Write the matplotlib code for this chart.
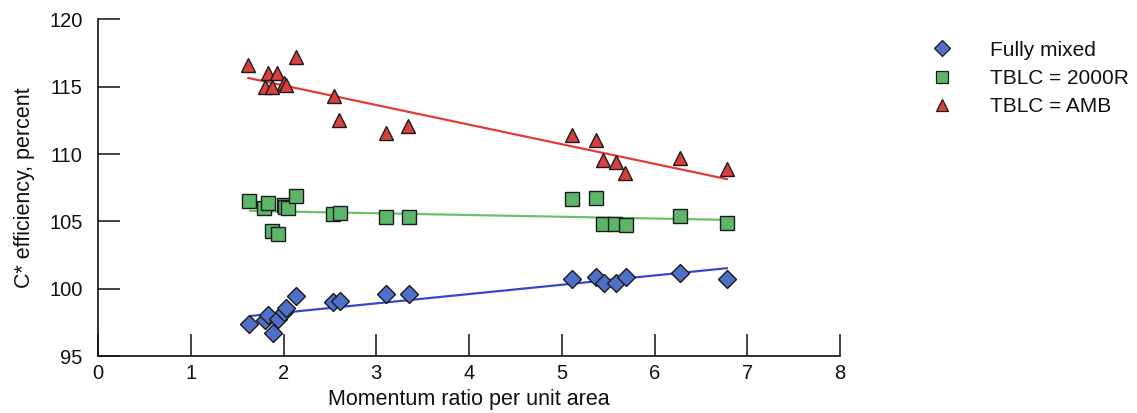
import matplotlib.pyplot as plt
from matplotlib.lines import Line2D

plt.rcParams["font.family"] = ["Liberation Sans", "DejaVu Sans"]

# momentum ratio / C* efficiency
MIXED_X = [1.63, 1.80, 1.83, 1.89, 1.94, 2.00, 2.03, 2.14, 2.53, 2.61,
           3.11, 3.35, 5.11, 5.37, 5.45, 5.59, 5.69, 6.27, 6.78]
MIXED_Y = [97.4, 97.7, 98.05, 96.7, 97.75, 98.3, 98.55, 99.45, 99.0, 99.1,
           99.6, 99.6, 100.7, 100.85, 100.45, 100.45, 100.85, 101.2, 100.75]

TBLC2000_X = [1.63, 1.79, 1.83, 2.00, 2.02, 2.05, 2.13, 1.88, 1.94, 2.53, 2.61,
              3.10, 3.35, 5.11, 5.37, 5.44, 5.57, 5.69, 6.27, 6.78]
TBLC2000_Y = [106.5, 106.0, 106.4, 106.2, 106.1, 106.0, 106.85, 104.25, 104.05, 105.55, 105.6,
              105.35, 105.3, 106.65, 106.7, 104.8, 104.8, 104.75, 105.4, 104.85]

AMB_X = [1.62, 1.80, 1.83, 1.88, 1.93, 2.00, 2.03, 2.13, 2.54, 2.60,
         3.10, 3.34, 5.11, 5.37, 5.44, 5.59, 5.68, 6.27, 6.78]
AMB_Y = [116.6, 115.0, 116.05, 115.0, 116.0, 115.3, 115.15, 117.2, 114.3, 112.5,
         111.55, 112.05, 111.4, 111.05, 109.55, 109.4, 108.6, 109.7, 108.9]

# fitted trend lines (end points)
MIXED_FIT_X = [1.64, 6.78]
MIXED_FIT_Y = [97.97, 101.52]
TBLC2000_FIT_X = [1.64, 6.78]
TBLC2000_FIT_Y = [105.78, 105.11]
AMB_FIT_X = [1.62, 6.78]
AMB_FIT_Y = [115.65, 108.14]

X_TICKS = [0, 1, 2, 3, 4, 5, 6, 7, 8]
Y_TICKS = [95, 100, 105, 110, 115, 120]

BLUE_FILL, BLUE_LINE = "#4f6fc8", "#3c46c8"
GREEN_FILL, GREEN_LINE = "#5db56a", "#6cc070"
RED_FILL, RED_LINE = "#d8403e", "#e03c3c"
EDGE = "#1c1c1c"
INK = "#111111"

fig = plt.figure(figsize=(11.37, 4.13), dpi=100)
ax = fig.add_axes([0.0862, 0.138, 0.6526, 0.815])

ax.plot(MIXED_FIT_X, MIXED_FIT_Y, color=BLUE_LINE, lw=1.6, zorder=2)
ax.plot(TBLC2000_FIT_X, TBLC2000_FIT_Y, color=GREEN_LINE, lw=1.6, zorder=2)
ax.plot(AMB_FIT_X, AMB_FIT_Y, color=RED_LINE, lw=1.6, zorder=2)

ax.plot(MIXED_X, MIXED_Y, "D", ms=8.8, mfc=BLUE_FILL, mec=EDGE, mew=1.0, ls="none", zorder=3)
ax.plot(TBLC2000_X, TBLC2000_Y, "s", ms=9.4, mfc=GREEN_FILL, mec=EDGE, mew=1.0, ls="none", zorder=3)
ax.plot(AMB_X, AMB_Y, "^", ms=10, mfc=RED_FILL, mec=EDGE, mew=1.0, ls="none", zorder=3)

ax.set_xlim(0, 8)
ax.set_ylim(95, 120)
ax.set_xticks(X_TICKS)
ax.set_yticks(Y_TICKS)
ax.tick_params(direction="in", length=16, width=1.1, labelsize=14.5, colors=INK)
ax.tick_params(axis="x", pad=6)
ax.tick_params(axis="y", pad=11)
ax.spines["top"].set_visible(False)
ax.spines["right"].set_visible(False)
for s in ("left", "bottom"):
    ax.spines[s].set_linewidth(1.2)
    ax.spines[s].set_color(INK)

ax.set_xlabel("Momentum ratio per unit area", fontsize=15.5, labelpad=4, color=INK)
ax.set_ylabel("C* efficiency, percent", fontsize=15.5, labelpad=10, color=INK)

handles = [
    Line2D([], [], marker="D", ms=8, mfc=BLUE_FILL, mec=EDGE, mew=0.9, ls="none"),
    Line2D([], [], marker="s", ms=8.5, mfc=GREEN_FILL, mec=EDGE, mew=0.9, ls="none"),
    Line2D([], [], marker="^", ms=9, mfc=RED_FILL, mec=EDGE, mew=0.9, ls="none"),
]
fig.legend(handles, ["Fully mixed", "TBLC = 2000R", "TBLC = AMB"],
           loc="upper left", bbox_to_anchor=(0.812, 0.922), frameon=False,
           fontsize=15, handlelength=1.0, handletextpad=1.8, labelspacing=0.45,
           borderaxespad=0, labelcolor=INK)

fig.savefig("out.png", dpi=100)
